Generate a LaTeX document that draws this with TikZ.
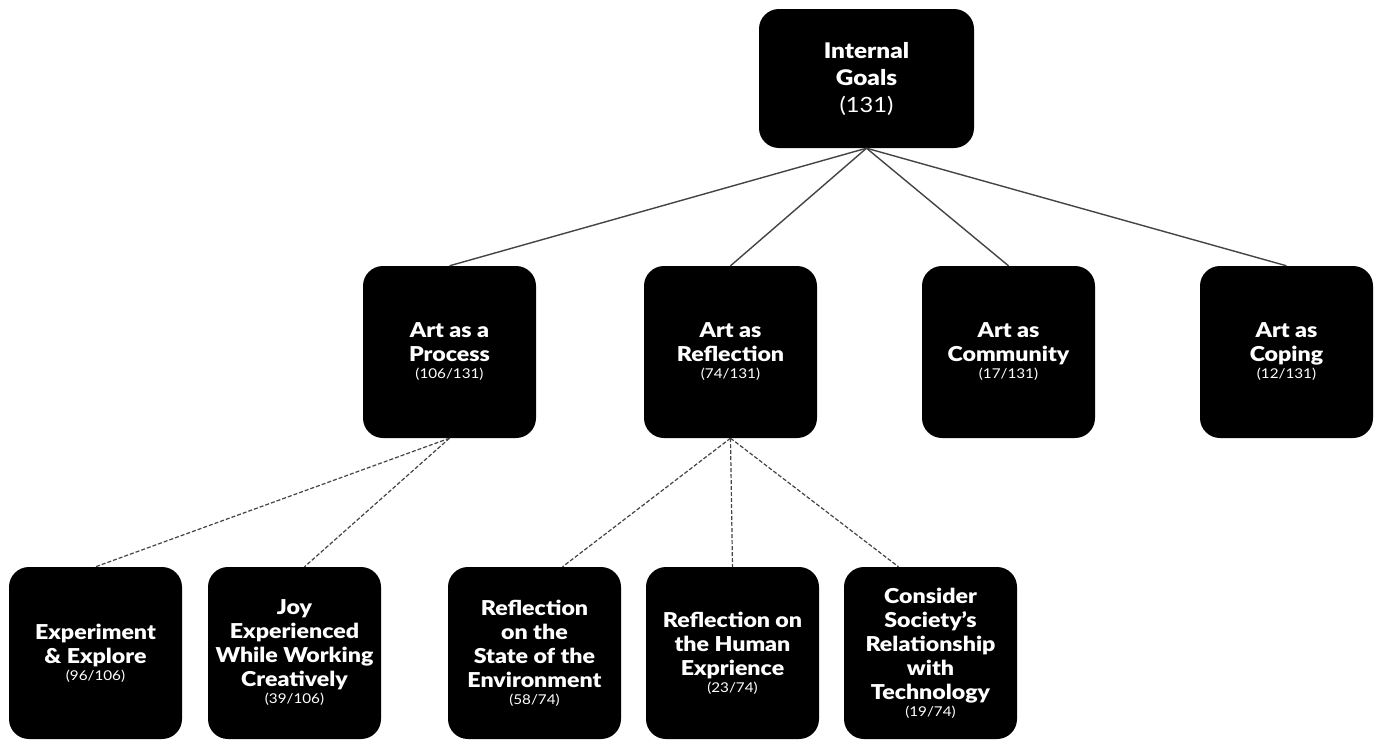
\documentclass[tikz,border=0pt]{standalone}
\usepackage{fontspec}
\setmainfont{Lato}[FakeStretch=1.13,BoldFont={Lato Black}]
\usetikzlibrary{calc}
\definecolor{edge}{HTML}{444444}
\newcommand{\cnt}[1]{\\[-7pt]{\fontsize{13.5}{16}\selectfont\mdseries #1}}

\begin{document}
\begin{tikzpicture}[x=1pt,y=-1pt,
  box/.style={fill=black,rounded corners=20pt,text=white,align=center,inner sep=0pt,
    minimum width=173pt,minimum height=172pt,font=\fontsize{20.5}{24}\selectfont\bfseries},
  tie/.style={draw=edge,line width=1.4pt},
  sub/.style={draw=edge,line width=1.2pt,dash pattern=on 4pt off 2pt}]
\fill[white] (0,0) rectangle (1384,747);
\useasboundingbox (0,0) rectangle (1384,747);
% top
\node[box,minimum width=215pt,minimum height=139pt,font=\fontsize{21.5}{27}\selectfont\bfseries] (root) at (866.5,78.5)
  {Internal\\Goals\\[0pt]{\fontsize{21}{24}\selectfont\mdseries (131)}};
% middle row
\node[box] (proc) at (449.5,352) {Art as a\\Process\cnt{(106/131)}};
\node[box] (refl) at (730.5,352) {Art as\\Reflection\cnt{(74/131)}};
\node[box] (comm) at (1008.5,352) {Art as\\Community\cnt{(17/131)}};
\node[box] (cope) at (1286.5,352) {Art as\\Coping\cnt{(12/131)}};
% bottom row
\node[box] (exp) at (95.5,653) {Experiment\\\& Explore\cnt{(96/106)}};
\node[box] (joy) at (294.5,653) {Joy\\Experienced\\While Working\\Creatively\cnt{(39/106)}};
\node[box] (env) at (534.5,653) {Reflection\\on the\\State of the\\Environment\cnt{(58/74)}};
\node[box] (hum) at (732.5,653) {Reflection on\\the Human\\Exprience\cnt{(23/74)}};
\node[box] (tech) at (930.5,653) {Consider\\Society’s\\Relationship\\with\\Technology\cnt{(19/74)}};
% links
\foreach \n in {proc,refl,comm,cope}{\draw[tie] (root.south) -- (\n.north);}
\draw[sub] (proc.south) -- (exp.north);
\draw[sub] (proc.south) -- ([xshift=10pt]joy.north);
\draw[sub] (refl.south) -- ([xshift=28pt]env.north);
\draw[sub] (refl.south) -- (hum.north);
\draw[sub] (refl.south) -- ([xshift=-32pt]tech.north);
\end{tikzpicture}
\end{document}
